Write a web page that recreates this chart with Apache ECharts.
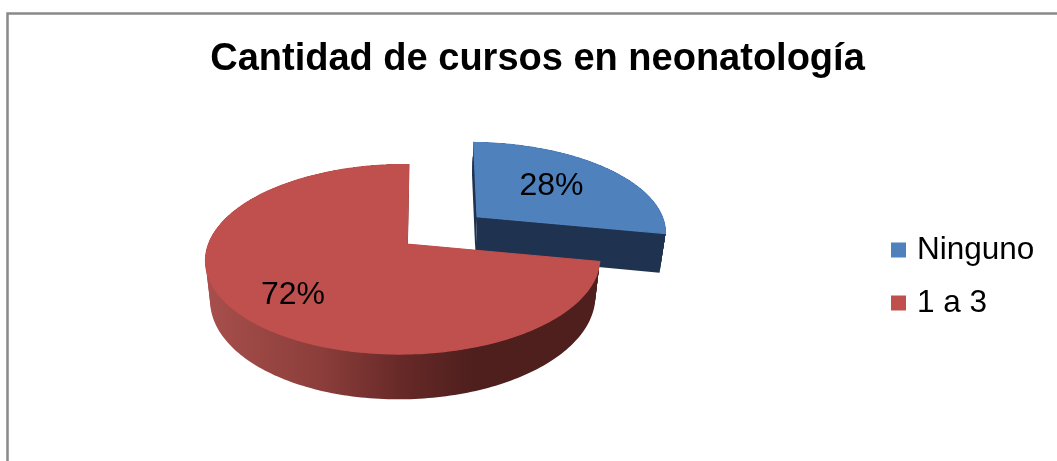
<!DOCTYPE html>
<html>
<head>
<meta charset="utf-8">
<script src="https://cdn.jsdelivr.net/npm/echarts@6/dist/echarts.min.js"></script>
<style>
    html, body { margin: 0; padding: 0; background: #fff; }
    #main { width: 1057px; height: 461px; }
</style>
</head>
<body>
<div id="main"></div>
<script>
var titleText = 'Cantidad de cursos en neonatología';
var categories = ['Ninguno', '1 a 3'];
var values = [28, 72];

var topColors = ['#4f81bd', '#c0504d'];
var explode = [0.49, 0];
var sliceScale = [1.035, 1];
var sliceSkew = [0.025, 0];
var sliceDepth = [41, 38];
var labelRadius = [0.62, 0.72];
var labelShift = [[-4, 0], [5, 5]];

// ECharts has no 3D pie, so a custom series tilts the disc with a small perspective
var AX = 407, AY = 244, RX = 194.5, RY = 92.3, K = 0.161, M = 0.0198, SHEAR = 2.3;
var WALL_LEVELS = 8;

function project(u, v, depth, fullDepth) {
    var w = 1 + K * v + M * u;
    var x = AX + (RX * u + SHEAR * v) / w;
    var y = AY - RY * v / w;
    if (depth) {
        x = AX + (x - AX) * (1 - 0.023 * depth / fullDepth);
        y += depth / w;
    }
    return [x, y];
}

function rim(index, a0, a1, ox, oy, depth) {
    var pts = [];
    var steps = Math.ceil((a1 - a0) / 0.02);
    for (var i = 0; i <= steps; i++) {
        var a = a0 + (a1 - a0) * i / steps;
        var u = sliceScale[index] * (Math.sin(a) + sliceSkew[index] * Math.cos(a));
        var v = sliceScale[index] * Math.cos(a);
        pts.push(project(ox + u, oy + v, depth, sliceDepth[index]));
    }
    return pts;
}

var total = values.reduce(function (s, v) { return s + v; }, 0);

function sliceRenderer(index) {
    return function (params, api) {
        var before = values.slice(0, index).reduce(function (s, v) { return s + v; }, 0);
        var a0 = before / total * Math.PI * 2;
        var a1 = (before + api.value(0)) / total * Math.PI * 2;
        var mid = (a0 + a1) / 2;
        var ox = explode[index] * Math.sin(mid);
        var oy = explode[index] * Math.cos(mid);
        var depth = sliceDepth[index];

        var upper = rim(index, a0, a1, ox, oy, 0);
        var lower = rim(index, a0, a1, ox, oy, depth);
        var apex = project(ox, oy, 0, depth);
        var apexDown = project(ox, oy, depth, depth);

        var wallFill = index === 0 ? '#1f3350' : new echarts.graphic.LinearGradient(206, 0, 600, 0, [
            { offset: 0, color: '#a84f4c' },
            { offset: 0.3, color: '#8a3d3a' },
            { offset: 0.5, color: '#662927' },
            { offset: 0.68, color: '#4e1f1d' },
            { offset: 1, color: '#4e1f1d' }
        ], true);
        var sideFill = index === 0 ? '#1f3350' : '#6e2d2b';

        var labelAt = project(
            ox + labelRadius[index] * Math.sin(mid),
            oy + labelRadius[index] * Math.cos(mid),
            0,
            depth
        );

        var children = [
            {
                type: 'polygon',
                shape: { points: [apex, upper[0], lower[0], apexDown] },
                style: { fill: sideFill }
            },
            {
                type: 'polygon',
                shape: { points: [apex, upper[upper.length - 1], lower[lower.length - 1], apexDown] },
                style: { fill: sideFill }
            }
        ];

        // stacked rims so the wall outline runs smoothly down from the top edge
        for (var level = 1; level <= WALL_LEVELS; level++) {
            var ring = rim(index, a0, a1, ox, oy, depth * level / WALL_LEVELS);
            children.push({
                type: 'polygon',
                shape: { points: upper.concat(ring.slice().reverse()) },
                style: { fill: wallFill }
            });
        }

        children.push({
            type: 'polygon',
            shape: { points: [apex].concat(upper) },
            style: { fill: topColors[index], stroke: topColors[index], lineWidth: 1.2 }
        });
        children.push({
            type: 'text',
            z2: 10,
            style: {
                text: api.value(0) + '%',
                x: labelAt[0] + labelShift[index][0],
                y: labelAt[1] + labelShift[index][1],
                align: 'center',
                verticalAlign: 'middle',
                fontFamily: 'Liberation Sans',
                fontSize: 32,
                fill: '#000'
            }
        });

        return { type: 'group', children: children };
    };
}

var series = categories.map(function (name, i) {
    return {
        name: name,
        type: 'custom',
        coordinateSystem: 'none',
        itemStyle: { color: topColors[i] },
        renderItem: sliceRenderer(i),
        data: [[values[i]]],
        z: 2 + i
    };
});

var option = {
    animation: false,
    backgroundColor: '#fff',
    title: {
        text: titleText,
        left: 532.5,
        top: 36,
        textAlign: 'center',
        textStyle: {
            fontFamily: 'Liberation Sans',
            fontWeight: 'bold',
            fontSize: 38,
            color: '#000'
        }
    },
    legend: {
        orient: 'vertical',
        left: 886,
        top: 229,
        icon: 'rect',
        itemWidth: 15,
        itemHeight: 15,
        itemGap: 21,
        data: categories,
        textStyle: {
            fontFamily: 'Liberation Sans',
            fontSize: 31.5,
            color: '#000',
            padding: [0, 0, 0, 6]
        }
    },
    graphic: [
        {
            type: 'rect',
            silent: true,
            shape: { x: 7.5, y: 13.5, width: 1200, height: 600 },
            style: { fill: null, stroke: '#898989', lineWidth: 2.5 }
        }
    ],
    series: series
};

var myChart = echarts.init(document.getElementById('main'));
myChart.setOption(option);
</script>
</body>
</html>
